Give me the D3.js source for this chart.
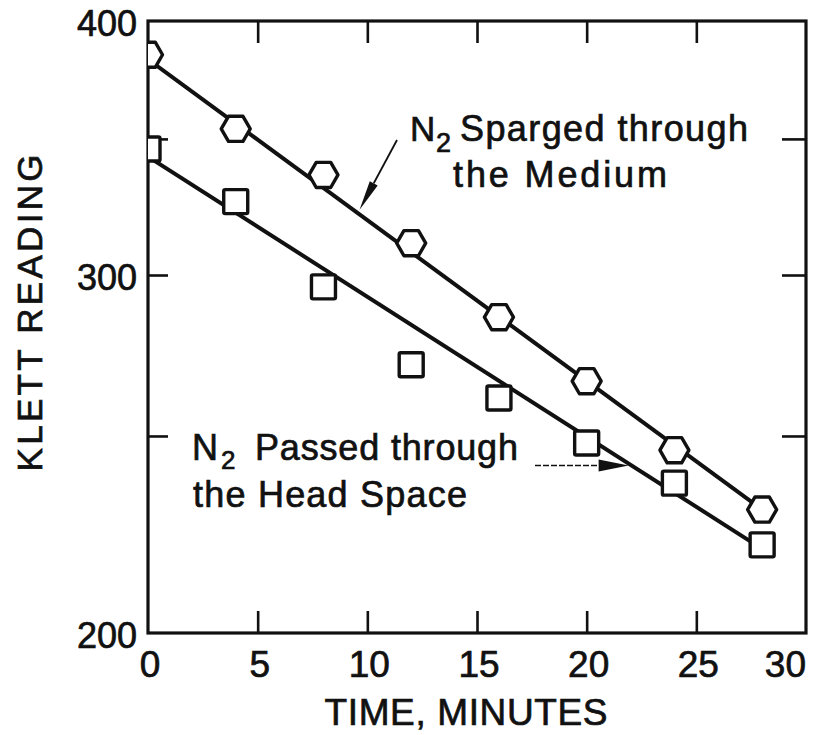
<!DOCTYPE html>
<html>
<head>
<meta charset="utf-8">
<script src="https://cdn.jsdelivr.net/npm/d3@7"></script>
<style>
  html, body { margin: 0; padding: 0; background: #fff; }
  svg { display: block; }
  text { font-family: "Liberation Sans", Arial, sans-serif; fill: #111; stroke: #111; stroke-width: 0.7px; }
</style>
</head>
<body>
<svg id="chart" width="816" height="735"></svg>
<script>
// Klett readings over time for the two nitrogen-purging methods
const times = [0, 4, 8, 12, 16, 20, 24, 28];
const sparged = [385, 354, 336, 311, 286, 266, 246, 230];    // N2 sparged through the medium
const headSpace = [346, 326, 296, 271, 261, 248, 237, 221];  // N2 passed through the head space

// Fitted straight lines (semi-log), endpoints
const fitTimes = [0, 28];
const spargedFit = [383, 230];
const headSpaceFit = [343, 220];

const xTicks = [0, 5, 10, 15, 20, 25, 30];
const yTicks = [200, 300, 400];
const yMinorTicks = [250, 300, 350];

const ink = "#111";
const svg = d3.select("#chart");

const x = d3.scaleLinear().domain([0, 30]).range([148, 806]);
const y = d3.scaleLog().domain([200, 400]).range([633, 21]);

const [x0, x1] = x.range();
const [yb, yt] = y.range();

// clip to the plot frame
svg.append("defs").append("clipPath").attr("id", "plot")
  .append("rect").attr("x", x0).attr("y", yt).attr("width", x1 - x0).attr("height", yb - yt);

// inward ticks, drawn with d3 axes
const tickLen = 22;
function styleAxis(g) {
  g.select(".domain").remove();
  g.selectAll(".tick line").attr("stroke", ink).attr("stroke-width", 2.6);
  g.selectAll(".tick text").remove();
}
const inner = xTicks.filter(d => d > 0 && d < 30);
svg.append("g").attr("transform", `translate(0,${yb})`)
  .call(d3.axisBottom(x).tickValues(inner).tickSize(-tickLen).tickFormat(""))
  .call(styleAxis);
svg.append("g").attr("transform", `translate(0,${yt})`)
  .call(d3.axisTop(x).tickValues(inner).tickSize(-tickLen).tickFormat(""))
  .call(styleAxis);
svg.append("g").attr("transform", `translate(${x0},0)`)
  .call(d3.axisLeft(y).tickValues(yMinorTicks).tickSize(-20).tickFormat(""))
  .call(styleAxis);
svg.append("g").attr("transform", `translate(${x1},0)`)
  .call(d3.axisRight(y).tickValues(yMinorTicks).tickSize(-24).tickFormat(""))
  .call(styleAxis);

// frame
svg.append("rect")
  .attr("x", x0).attr("y", yt).attr("width", x1 - x0).attr("height", yb - yt)
  .attr("fill", "none").attr("stroke", ink).attr("stroke-width", 3.2);

// tick labels
svg.append("g").selectAll("text").data(yTicks).join("text")
  .attr("x", 137).attr("y", d => y(d) + 15)
  .attr("text-anchor", "end")
  .attr("font-size", 36)
  .text(d => d);

svg.append("g").selectAll("text").data(xTicks).join("text")
  .attr("x", d => d === 30 ? x(d) : x(d) + 2)
  .attr("y", 677)
  .attr("text-anchor", d => d === 30 ? "end" : "middle")
  .attr("font-size", 37)
  .text(d => d);

// axis titles
svg.append("text")
  .attr("x", 466).attr("y", 725)
  .attr("text-anchor", "middle")
  .attr("font-size", 37)
  .attr("textLength", 283).attr("lengthAdjust", "spacing")
  .text("TIME, MINUTES");

svg.append("text")
  .attr("transform", "translate(42,313) rotate(-90)")
  .attr("text-anchor", "middle")
  .attr("font-size", 35)
  .attr("textLength", 317).attr("lengthAdjust", "spacing")
  .text("KLETT READING");

// fitted lines and markers
const plot = svg.append("g").attr("clip-path", "url(#plot)");
const fitLine = d3.line().x(d => x(d[0])).y(d => y(d[1]));

plot.append("path")
  .attr("d", fitLine(d3.zip(fitTimes, spargedFit)))
  .attr("fill", "none").attr("stroke", ink).attr("stroke-width", 4);
plot.append("path")
  .attr("d", fitLine(d3.zip(fitTimes, headSpaceFit)))
  .attr("fill", "none").attr("stroke", ink).attr("stroke-width", 4);

// hexagons (flat top/bottom)
const hexR = 14.5;
const hexPath = d3.range(6).map(i => {
  const a = Math.PI / 3 * i;
  return [hexR * Math.cos(a), hexR * Math.sin(a)];
});
plot.append("g").selectAll("path").data(d3.zip(times, sparged)).join("path")
  .attr("transform", d => `translate(${x(d[0])},${y(d[1])})`)
  .attr("d", "M" + hexPath.join("L") + "Z")
  .attr("fill", "#fff").attr("stroke", ink).attr("stroke-width", 3.4)
  .attr("stroke-linejoin", "round");

// squares
const sq = 24;
plot.append("g").selectAll("rect").data(d3.zip(times, headSpace)).join("rect")
  .attr("x", d => x(d[0]) - sq / 2).attr("y", d => y(d[1]) - sq / 2)
  .attr("width", sq).attr("height", sq)
  .attr("fill", "#fff").attr("stroke", ink).attr("stroke-width", 3.4)
  .attr("rx", 1.5);

// point on a fitted line (straight in log space)
function onFit(vals, t) {
  const f = t / (fitTimes[1] - fitTimes[0]);
  return [x(t), y(vals[0]) + (y(vals[1]) - y(vals[0])) * f];
}

function arrow(from, tip, headLen, headHalf, width, dash) {
  const dx = tip[0] - from[0], dy = tip[1] - from[1];
  const L = Math.hypot(dx, dy), ux = dx / L, uy = dy / L;
  const bx = tip[0] - ux * headLen, by = tip[1] - uy * headLen;
  svg.append("line")
    .attr("x1", from[0]).attr("y1", from[1]).attr("x2", bx).attr("y2", by)
    .attr("stroke", ink).attr("stroke-width", width)
    .attr("stroke-dasharray", dash || null);
  svg.append("path")
    .attr("d", `M${tip[0]},${tip[1]}L${bx - uy * headHalf},${by + ux * headHalf}L${bx + uy * headHalf},${by - ux * headHalf}Z`)
    .attr("fill", ink);
}

// label: N2 sparged through the medium
const tipA = onFit(spargedFit, 9.6);
arrow([397, 140], [tipA[0] + 1, tipA[1] - 4], 30, 4.5, 1.8);
const labA = svg.append("g");
labA.append("text").attr("x", 410).attr("y", 141).attr("font-size", 35).text("N");
labA.append("text").attr("x", 436).attr("y", 152).attr("font-size", 27).text("2");
labA.append("text").attr("x", 460).attr("y", 141).attr("font-size", 36)
  .attr("textLength", 288).attr("lengthAdjust", "spacing").text("Sparged through");
labA.append("text").attr("x", 453).attr("y", 187).attr("font-size", 36)
  .attr("textLength", 214).attr("lengthAdjust", "spacing").text("the Medium");

// label: N2 passed through the head space
const tipB = onFit(headSpaceFit, 22.05);
arrow([535, tipB[1]], [tipB[0] - 3, tipB[1]], 30, 6, 1.4, "6,2");
const labB = svg.append("g");
labB.append("text").attr("x", 192).attr("y", 460).attr("font-size", 36).text("N");
labB.append("text").attr("x", 221).attr("y", 469).attr("font-size", 26).text("2");
labB.append("text").attr("x", 255).attr("y", 460).attr("font-size", 36)
  .attr("textLength", 263).attr("lengthAdjust", "spacing").text("Passed through");
labB.append("text").attr("x", 193).attr("y", 507).attr("font-size", 36)
  .attr("textLength", 274).attr("lengthAdjust", "spacing").text("the Head Space");
</script>
</body>
</html>
